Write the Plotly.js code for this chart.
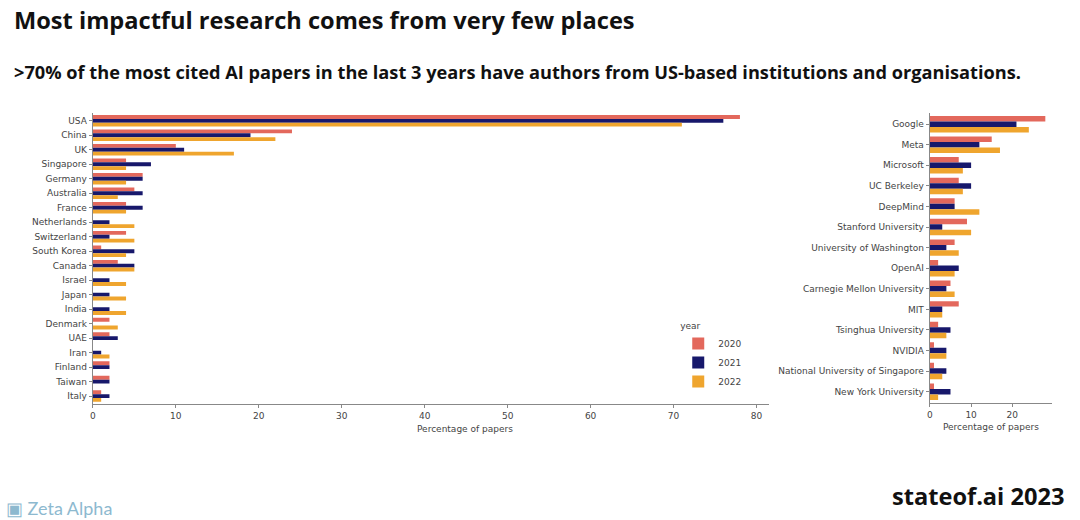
<!DOCTYPE html>
<html><head><meta charset="utf-8">
<script src="https://cdn.plot.ly/plotly-3.0.1.min.js"></script>
<style>html,body{margin:0;padding:0;background:#fff;}#chart{width:1080px;height:520px;}</style>
</head><body><div id="chart"></div>
<script>
const years = ["2020", "2021", "2022"];
const colors = ["#E3685C", "#17186B", "#EFA52E"];

const countries = ["USA","China","UK","Singapore","Germany","Australia","France","Netherlands","Switzerland","South Korea","Canada","Israel","Japan","India","Denmark","UAE","Iran","Finland","Taiwan","Italy"];
const country2020 = [78,24,10,4,6,5,4,0,4,1,3,0,0,0,2,2,0,2,2,1];
const country2021 = [76,19,11,7,6,6,6,2,2,5,5,2,2,2,0,3,1,2,2,2];
const country2022 = [71,22,17,4,4,3,4,5,5,4,5,4,4,4,3,0,2,0,0,1];

const orgs = ["Google","Meta","Microsoft","UC Berkeley","DeepMind","Stanford University","University of Washington","OpenAI","Carnegie Mellon University","MIT","Tsinghua University","NVIDIA","National University of Singapore","New York University"];
const org2020 = [28,15,7,7,6,9,6,2,5,7,2,1,1,1];
const org2021 = [21,12,10,10,6,3,4,7,4,3,5,4,4,5];
const org2022 = [24,17,8,8,12,10,7,6,6,3,4,4,3,2];

const countrySeries = [country2020, country2021, country2022];
const orgSeries = [org2020, org2021, org2022];

const traces = [];
years.forEach((y, i) => {
  traces.push({type:'bar', orientation:'h', x: countrySeries[i], y: countries, name: y,
    marker:{color: colors[i]}, xaxis:'x', yaxis:'y', legendgroup: y, showlegend: true, hoverinfo:'x+y'});
});
years.forEach((y, i) => {
  traces.push({type:'bar', orientation:'h', x: orgSeries[i], y: orgs, name: y,
    marker:{color: colors[i]}, xaxis:'x2', yaxis:'y2', legendgroup: y, showlegend: false, hoverinfo:'x+y'});
});

const tickFont = {family:'DejaVu Sans', size:9, color:'#444'};
const axTitleFont = {family:'DejaVu Sans', size:9, color:'#444'};

const layout = {
  width:1080, height:520,
  margin:{l:0,r:0,t:0,b:0},
  paper_bgcolor:'#fff', plot_bgcolor:'#fff',
  barmode:'group', bargap:0.2, bargroupgap:0,
  showlegend:true,
  legend:{x:0.628, y:0.39, xanchor:'left', yanchor:'top',
    title:{text:'year', side:'top', font:{family:'DejaVu Sans', size:9, color:'#444'}},
    font:{family:'DejaVu Sans', size:9, color:'#444'}, tracegroupgap:0, itemwidth:30,
    bgcolor:'rgba(255,255,255,0)'},
  xaxis:{domain:[0.086,0.712], range:[0,81.5], anchor:'y', showgrid:false, zeroline:false,
    showline:true, linecolor:'#888', linewidth:1.2, ticks:'outside', ticklen:3, tickcolor:'#888',
    dtick:10, tickfont:tickFont},
  yaxis:{domain:[0.223,0.783], anchor:'x', type:'category', range:[19.55,-0.55],
    showgrid:false, zeroline:false, showline:true, linecolor:'#888', linewidth:1.2,
    ticks:'outside', ticklen:3, tickcolor:'#888', tickfont:tickFont},
  xaxis2:{domain:[0.861,0.974], range:[0,29.6], anchor:'y2', showgrid:false, zeroline:false,
    showline:true, linecolor:'#888', linewidth:1.2, ticks:'outside', ticklen:3, tickcolor:'#888',
    dtick:10, tickfont:tickFont, title:{text:'Percentage of papers', font:axTitleFont, standoff:4}},
  yaxis2:{domain:[0.225,0.783], anchor:'x2', type:'category', range:[13.55,-0.55],
    showgrid:false, zeroline:false, showline:true, linecolor:'#888', linewidth:1.2,
    ticks:'outside', ticklen:3, tickcolor:'#888', tickfont:tickFont},
  annotations:[
    {text:'Percentage of papers', xref:'paper', yref:'paper',
     x:465/1080, y:1-429/520, xanchor:'center', yanchor:'middle', showarrow:false,
     font:axTitleFont},
    {text:'<b>Most impactful research comes from very few places</b>', xref:'paper', yref:'paper',
     x:12/1080, y:1-20/520, xanchor:'left', yanchor:'middle', showarrow:false,
     font:{family:'Open Sans', size:23.6, color:'#111'}},
    {text:'<b>>70% of the most cited AI papers in the last 3 years have authors from US-based institutions and organisations.</b>', xref:'paper', yref:'paper',
     x:12/1080, y:1-72/520, xanchor:'left', yanchor:'middle', showarrow:false,
     font:{family:'Open Sans', size:18.2, color:'#111'}},
    {text:'<b>stateof.ai 2023</b>', xref:'paper', yref:'paper',
     x:1066/1080, y:1-496/520, xanchor:'right', yanchor:'middle', showarrow:false,
     font:{family:'Open Sans', size:23.6, color:'#111'}},
    {text:'▣ Zeta Alpha', xref:'paper', yref:'paper',
     x:4/1080, y:1-508/520, xanchor:'left', yanchor:'middle', showarrow:false,
     font:{family:'Lato', size:18, color:'#8DB9CF'}}
  ]
};

Plotly.newPlot('chart', traces, layout, {displayModeBar:false, staticPlot:true});
</script></body></html>
